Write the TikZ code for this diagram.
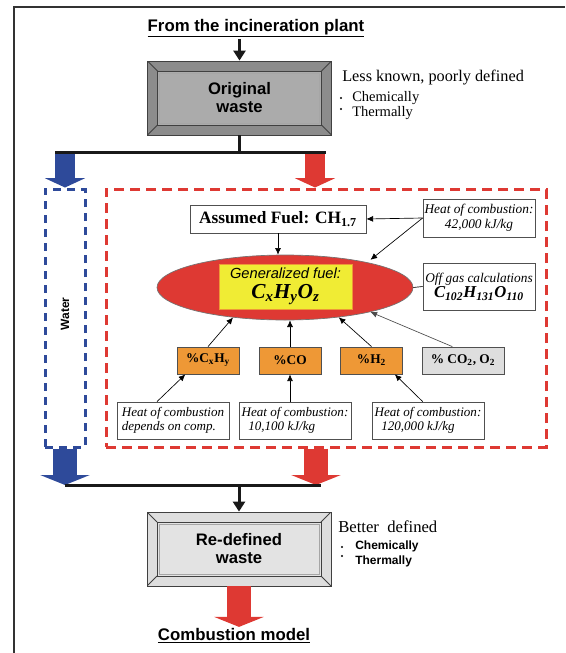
\documentclass[tikz,border=0pt]{standalone}
\usepackage{fontspec}
\setmainfont{Liberation Serif}
\setsansfont{Liberation Sans}
\usepackage{tikz}
\usetikzlibrary{arrows.meta}
\usetikzlibrary{shapes.geometric}
\definecolor{wblue}{RGB}{46, 74, 154}
\definecolor{wred}{RGB}{222, 57, 51}
\definecolor{fyellow}{RGB}{240, 236, 52}
\definecolor{forange}{RGB}{238, 152, 54}
\definecolor{edgegray}{RGB}{80, 80, 80}

\tikzset{frameline/.style = {draw=black!80, line width=0.9pt}}
\tikzset{heavy/.style = {line width=2.25pt, black!90}}
\tikzset{heavyarrow/.style = {heavy, -{Triangle[length=7.5pt, width=9pt]}}}
\tikzset{topflow/.style = {line width=15pt, -{Triangle[length=7pt, width=30pt]}}}
\tikzset{lowflow/.style = {line width=18.5pt, -{Triangle[length=7.5pt, width=37pt]}}}
\tikzset{feed/.style = {line width=0.5pt, -{Latex[length=5pt, width=4.5pt]}}}
\tikzset{headline/.style = {font=\sffamily\bfseries\fontsize{12.6}{14}\selectfont, inner sep=1pt}}
\tikzset{remark/.style = {font=\fontsize{12.2}{14}\selectfont, inner sep=0pt}}
\tikzset{remarksmall/.style = {font=\fontsize{10.9}{12}\selectfont, inner sep=0pt}}
\tikzset{remarksans/.style = {font=\sffamily\bfseries\fontsize{9}{11}\selectfont, inner sep=0pt}}
\tikzset{waterframe/.style = {draw=wblue, line width=2.25pt, dash pattern=on 6pt off 4.5pt,
                              minimum width=30pt, minimum height=193.5pt}}
\tikzset{fuelframe/.style = {draw=wred, line width=2.25pt, dash pattern=on 7.5pt off 4.5pt,
                             minimum width=330pt, minimum height=193.5pt}}
\tikzset{fuelbox/.style = {draw=edgegray, fill=white, line width=0.6pt, minimum width=132pt,
                           minimum height=21pt, inner sep=0pt,
                           font=\bfseries\fontsize{13}{14}\selectfont}}
\tikzset{infobox/.style = {draw=edgegray, fill=white, line width=0.6pt, minimum width=84pt,
                           minimum height=28.5pt, inner sep=0pt, align=center,
                           font=\itshape\fontsize{10}{11.5}\selectfont}}
\tikzset{heatbox/.style = {draw=edgegray, fill=white, line width=0.6pt, minimum width=84pt,
                           minimum height=27.75pt, inner sep=0pt, align=left,
                           font=\itshape\fontsize{9.8}{10.2}\selectfont}}
\tikzset{share/.style = {draw=edgegray, fill=forange, line width=0.6pt, minimum width=46.5pt,
                         minimum height=20.25pt, inner sep=0pt,
                         font=\bfseries\fontsize{10}{12}\selectfont}}
\tikzset{bevel/.style 2 args = {draw=black!75, fill=#1, line width=0.6pt,
    minimum width=138pt, minimum height=55.5pt, align=center,
    font=\sffamily\bfseries\fontsize{12.5}{13.5}\selectfont,
    path picture={
      \draw [black!75, fill=#2] ([shift={(10, 10)}]path picture bounding box.north west)
        rectangle ([shift={(-10, -10)}]path picture bounding box.south east);
      \draw [black!35] ([shift={(12, 12)}]path picture bounding box.north west)
        rectangle ([shift={(-12, -12)}]path picture bounding box.south east);
      \draw [black!75] (path picture bounding box.north west) -- ++(10, 10)
        (path picture bounding box.north east) -- ++(-10, 10)
        (path picture bounding box.south west) -- ++(10, -10)
        (path picture bounding box.south east) -- ++(-10, -10);
    }}}

\begin{document}
\begin{tikzpicture}[x=0.75pt, y=-0.75pt]
    \useasboundingbox (0, 0) rectangle (565, 653);
    \draw [frameline] (14, 653) -- (14, 7) -- (565, 7);

    \node [headline] (src) at (256, 28) {\underline{From the incineration plant}};
    \node [bevel={black!45}{black!33}] (orig) at (239.5, 98) {Original\\waste};
    \draw [heavyarrow] (src.south -| orig.north) -- (orig.north);

    \node [remark, anchor=west] (less) at (342, 78) {Less known, poorly defined};
    \node [remarksmall, anchor=west] (chem1) at (352, 98) {Chemically};
    \node [remarksmall, anchor=west] (therm1) at (352, 113) {Thermally};
    \foreach \y in {98, 109}
        \fill (341, \y) circle (0.8pt);

    % split into water and fuel
    \node [waterframe] (water) at (65, 318) {};
    \node [font=\sffamily\bfseries\fontsize{9}{10}\selectfont, rotate=90] (waterlbl) at (65, 314) {Water};
    \node [fuelframe] (zone) at (326, 318) {};

    \coordinate (splitL) at (55, 152);
    \coordinate (splitR) at (326, 152);
    \coordinate (redin) at (315, 152);
    \draw [topflow, wblue] (water.north |- splitL) -- (water.north);
    \draw [topflow, wred] (redin) -- (redin |- zone.north);
    \draw [heavy] (splitL) -- (splitR);
    \draw [heavy] (orig.south) -- (orig.south |- splitL);

    \node [fuelbox] (fuel) at (278, 219) {Assumed Fuel: CH\textsubscript{1.7}};
    \node [ellipse, fill=wred, draw=black!55, line width=0.5pt, minimum width=192pt,
           minimum height=48.75pt, inner sep=0pt] (gen) at (285, 287.5) {};
    \node [draw=forange, fill=fyellow, line width=0.6pt, minimum width=99.75pt,
           minimum height=33.75pt, inner sep=0pt, align=center] (genlbl) at (285.5, 286.5)
          {{\sffamily\itshape\fontsize{11}{12}\selectfont Generalized fuel:}\\[3pt]
           {\bfseries\itshape\fontsize{16}{16}\selectfont C\textsubscript{x}H\textsubscript{y}O\textsubscript{z}}};
    \node [infobox] (heattop) at (479, 218) {Heat of combustion:\\42,000 kJ/kg};
    \node [infobox, minimum height=35.25pt] (offgas) at (479, 286.5)
          {Off gas calculations\\
           {\bfseries\fontsize{12.5}{13}\selectfont C\textsubscript{102}H\textsubscript{131}O\textsubscript{110}}};

    \node [share] (cxhy) at (208, 360.5) {\%C\textsubscript{x}H\textsubscript{y}};
    \node [share] (co) at (290, 360.5) {\%CO};
    \node [share] (htwo) at (371.5, 360.5) {\%H\textsubscript{2}};
    \node [share, fill=black!13, minimum width=61.5pt] (inert) at (463, 360.5)
          {\% CO\textsubscript{2}, O\textsubscript{2}};

    \node [heatbox] (hcx) at (173, 420.5) {Heat of combustion\\depends on comp.};
    \node [heatbox] (hco) at (295, 420.5) {Heat of combustion:\\\hspace*{5pt}10,100 kJ/kg};
    \node [heatbox] (hh) at (428, 420.5) {Heat of combustion:\\\hspace*{5pt}120,000 kJ/kg};

    \draw [feed] (fuel.south) -- (fuel.south |- gen.north);
    \draw [feed] (heattop.west) -- (fuel.east);
    \draw [feed, shorten >=3pt] (heattop.west) -- (gen.17);
    \draw [line width=0.5pt] (gen.east) -- (offgas.west);
    \draw [feed] (cxhy.north) -- (gen.210);
    \draw [feed] (co.north) -- (co.north |- gen.south);
    \draw [feed] (htwo.north) -- (gen.331);
    \draw [feed, black!70] ([xshift=-8pt]inert.north) -- (gen.344);
    \draw [feed] ([xshift=-12pt]hcx.north) -- ([xshift=-17pt]cxhy.south);
    \draw [feed] (co.south |- hco.north) -- (co.south);
    \draw [feed] ([xshift=-4pt]hh.north) -- ([xshift=17.5pt]htwo.south);

    % join again
    \coordinate (joinL) at (65, 485);
    \coordinate (joinR) at (321, 485);
    \coordinate (redout) at (316, 485);
    \draw [lowflow, wblue] (water.south) -- (water.south |- joinL);
    \draw [lowflow, wred] (redout |- zone.south) -- (redout);
    \draw [heavy] (joinL) -- (joinR);

    \node [bevel={black!13}{black!11}] (redef) at (239, 549) {Re-defined\\waste};
    \draw [heavyarrow] (redef.north |- joinL) -- (redef.north);

    \node [remark, font=\fontsize{12.5}{14}\selectfont, anchor=west] (better) at (338, 527) {Better\ \ defined};
    \node [remarksans, anchor=west] (chem2) at (355, 546) {Chemically};
    \node [remarksans, anchor=west] (therm2) at (355, 561) {Thermally};
    \foreach \y in {547, 556}
        \fill (342, \y) circle (0.8pt);

    \node [headline] (model) at (234, 636) {\underline{Combustion model}};
    \draw [lowflow, wred] (redef.south) -- (redef.south |- model.north);
\end{tikzpicture}
\end{document}
